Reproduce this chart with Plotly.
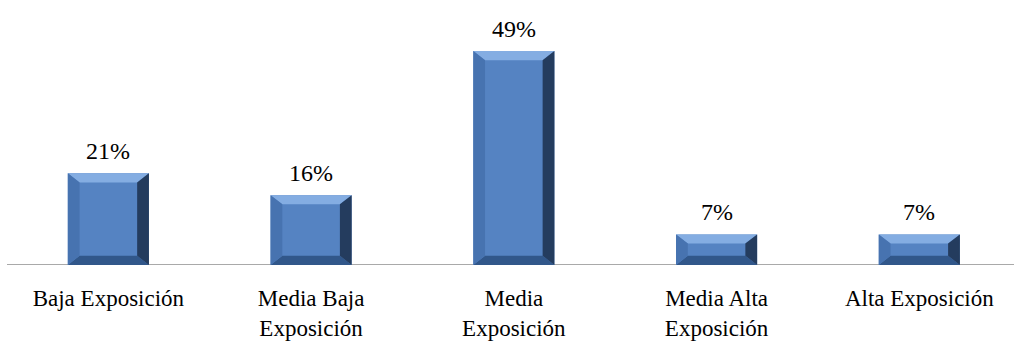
import plotly.graph_objects as go

categories = ["Baja Exposición", "Media Baja<br>Exposición", "Media<br>Exposición",
              "Media Alta<br>Exposición", "Alta Exposición"]
values = [21, 16, 49, 7, 7]
labels = [f"{v}%" for v in values]

FONT = "Liberation Serif"
x = list(range(len(values)))
bar_w = 0.4

fig = go.Figure()
fig.add_trace(go.Bar(
    x=x, y=values, width=bar_w,
    marker=dict(color="#5583C2", line=dict(width=0)),
    hoverinfo="skip",
))

# value labels above the bars
for i, v, t in zip(x, values, labels):
    fig.add_annotation(x=i, y=v, text=t, showarrow=False, yanchor="bottom",
                       yshift=7, font=dict(family=FONT, size=24, color="black"))

# bevel decoration derived from the data values
hw = bar_w / 2
dx = 0.058
dy = 2.1
shapes = []
def poly(pts, color):
    path = "M " + " L ".join(f"{a},{b}" for a, b in pts) + " Z"
    return dict(type="path", path=path, xref="x", yref="y",
                fillcolor=color, line=dict(width=0), layer="above")
for i, v in zip(x, values):
    l, r = i - hw, i + hw
    d = min(dy, v / 3)
    shapes.append(poly([(l, v), (r, v), (r - dx, v - d), (l + dx, v - d)], "#84ADE2"))
    shapes.append(poly([(l, 0), (r, 0), (r - dx, d), (l + dx, d)], "#31578A"))
    shapes.append(poly([(l, 0), (l, v), (l + dx, v - d), (l + dx, d)], "#4773B0"))
    shapes.append(poly([(r, 0), (r, v), (r - dx, v - d), (r - dx, d)], "#243C5E"))

fig.update_layout(
    width=1014, height=347,
    margin=dict(l=7, r=0, t=3, b=82),
    paper_bgcolor="white", plot_bgcolor="white",
    showlegend=False,
    shapes=shapes,
    xaxis=dict(tickvals=x, ticktext=categories, range=[-0.5, 4.467],
               automargin=False, ticklabelstandoff=17,
               showgrid=False, zeroline=False, showline=False, ticks="",
               tickfont=dict(family=FONT, size=23, color="black")),
    yaxis=dict(range=[0, 60], visible=False, showgrid=False, zeroline=False,
               automargin=False),
)
fig.add_hline(y=0, line=dict(color="#8C8C8C", width=1.5), layer="below")

fig.write_html("out.html", config={"displayModeBar": False},
               post_script="document.body.style.margin='0';")
